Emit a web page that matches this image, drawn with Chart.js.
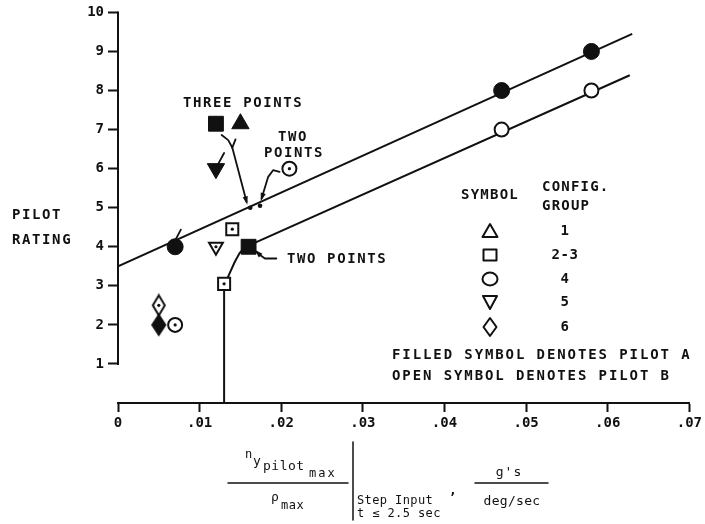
<!DOCTYPE html>
<html>
<head>
<meta charset="utf-8">
<script src="https://cdn.jsdelivr.net/npm/chart.js@4.4.1/dist/chart.umd.min.js"></script>
<style>
  body { margin: 0; background: #fff; }
</style>
</head>
<body>
<canvas id="myChart" width="705" height="524"></canvas>
<script>
const xTicks = [0, 0.01, 0.02, 0.03, 0.04, 0.05, 0.06, 0.07];
const yTicks = [1, 2, 3, 4, 5, 6, 7, 8, 9, 10];

// filled symbol = pilot A, open symbol = pilot B
const circlesA = [{x: 0.007, y: 4}, {x: 0.047, y: 8}, {x: 0.058, y: 9}];
const circlesB = [{x: 0.047, y: 7}, {x: 0.058, y: 8}, {x: 0.021, y: 6}, {x: 0.007, y: 2}];
const squaresA = [{x: 0.012, y: 7.15}, {x: 0.016, y: 4}];
const squaresB = [{x: 0.014, y: 4.45}, {x: 0.013, y: 3.05}];
const triUpA = [{x: 0.015, y: 7.15}];
const triDownA = [{x: 0.012, y: 6}];
const triDownB = [{x: 0.012, y: 4}];
const diamondsA = [{x: 0.005, y: 2}];
const diamondsB = [{x: 0.005, y: 2.5}];
// dots in the middle of some open symbols
const centreDots = [{x: 0.021, y: 6}, {x: 0.007, y: 2}, {x: 0.014, y: 4.45}, {x: 0.013, y: 3.05}, {x: 0.012, y: 4}, {x: 0.005, y: 2.5}];
// the "three points" / "two points" spots on the upper line
const smallDots = [{x: 0.0162, y: 5.0}, {x: 0.0174, y: 5.05}];

// faired lines
const fitA = [{x: 0, y: 3.5}, {x: 0.063, y: 9.45}];
const fitB = [{x: 0.013, y: 0}, {x: 0.013, y: 3}, {x: 0.0137, y: 3.33}, {x: 0.0143, y: 3.61},
              {x: 0.0149, y: 3.84}, {x: 0.0155, y: 3.97}, {x: 0.0164, y: 4.07}, {x: 0.0627, y: 8.39}];

// pointer lines (data coords), last point gets an arrow head when flagged
const pointers = [
  {pts: [{x: 0.0127, y: 6.86}, {x: 0.0135, y: 6.73}, {x: 0.0140, y: 6.54}], head: false},
  {pts: [{x: 0.0144, y: 6.75}, {x: 0.0140, y: 6.54}], head: false},
  {pts: [{x: 0.0140, y: 6.54}, {x: 0.01575, y: 5.15}], head: true},
  {pts: [{x: 0.0198, y: 5.92}, {x: 0.0190, y: 5.96}, {x: 0.0184, y: 5.79}, {x: 0.0176, y: 5.24}], head: true},
  {pts: [{x: 0.0194, y: 3.70}, {x: 0.0180, y: 3.70}, {x: 0.0174, y: 3.79}, {x: 0.0170, y: 3.87}], head: true},
  {pts: [{x: 0.0066, y: 4.0}, {x: 0.0077, y: 4.44}], head: false},
  {pts: [{x: 0.0121, y: 6.05}, {x: 0.0130, y: 6.40}], head: false}
];

const ink = '#111';
const mono = 'DejaVu Sans Mono';

function makeDiamond(w, h, filled) {
  const c = document.createElement('canvas');
  c.width = w + 4;
  c.height = h + 4;
  const g = c.getContext('2d');
  g.beginPath();
  g.moveTo(c.width / 2, 2);
  g.lineTo(c.width - 2, c.height / 2);
  g.lineTo(c.width / 2, c.height - 2);
  g.lineTo(2, c.height / 2);
  g.closePath();
  g.fillStyle = filled ? ink : '#fff';
  g.fill();
  g.lineWidth = 2;
  g.strokeStyle = ink;
  g.stroke();
  return c;
}

function txt(ctx, s, x, y, size, opts) {
  opts = opts || {};
  ctx.font = (opts.bold === false ? '' : 'bold ') + size + 'px "' + mono + '"';
  ctx.letterSpacing = (opts.sp || 0) + 'px';
  ctx.textAlign = opts.align || 'left';
  ctx.textBaseline = 'middle';
  ctx.fillStyle = ink;
  ctx.fillText(s, x, y);
}

function line(ctx, x1, y1, x2, y2, w) {
  ctx.beginPath();
  ctx.lineWidth = w || 2;
  ctx.strokeStyle = ink;
  ctx.moveTo(x1, y1);
  ctx.lineTo(x2, y2);
  ctx.stroke();
}

const paperPlugin = {
  id: 'paper',
  afterDraw(chart) {
    const ctx = chart.ctx;
    const xs = chart.scales.x, ys = chart.scales.y;
    ctx.save();

    // y axis runs only from 1 to 10
    const ax = chart.chartArea.left;
    line(ctx, ax, ys.getPixelForValue(1) + 1, ax, ys.getPixelForValue(10) - 1, 2);

    // pointer lines
    ctx.lineCap = 'round';
    ctx.lineJoin = 'round';
    pointers.forEach(p => {
      const px = p.pts.map(d => [xs.getPixelForValue(d.x), ys.getPixelForValue(d.y)]);
      ctx.beginPath();
      ctx.lineWidth = 1.8;
      ctx.strokeStyle = ink;
      px.forEach((q, i) => i ? ctx.lineTo(q[0], q[1]) : ctx.moveTo(q[0], q[1]));
      ctx.stroke();
      if (p.head) {
        const a = px[px.length - 2], b = px[px.length - 1];
        const ang = Math.atan2(b[1] - a[1], b[0] - a[0]);
        ctx.beginPath();
        ctx.moveTo(b[0] + Math.cos(ang) * 3, b[1] + Math.sin(ang) * 3);
        ctx.lineTo(b[0] - Math.cos(ang - 0.45) * 6, b[1] - Math.sin(ang - 0.45) * 6);
        ctx.lineTo(b[0] - Math.cos(ang + 0.45) * 6, b[1] - Math.sin(ang + 0.45) * 6);
        ctx.closePath();
        ctx.fillStyle = ink;
        ctx.fill();
      }
    });

    // annotations
    txt(ctx, 'THREE POINTS', 183, 103, 14, {sp: 1.6});
    txt(ctx, 'TWO', 293, 137, 14, {sp: 1.6, align: 'center'});
    txt(ctx, 'POINTS', 294, 153, 14, {sp: 1.6, align: 'center'});
    txt(ctx, 'TWO POINTS', 287, 259, 14, {sp: 1.6});

    // y title
    txt(ctx, 'PILOT', 12, 215, 14, {sp: 1.6});
    txt(ctx, 'RATING', 12, 240, 14, {sp: 1.6});

    // key
    txt(ctx, 'SYMBOL', 490, 195, 14, {sp: 1.2, align: 'center'});
    txt(ctx, 'CONFIG.', 542, 187, 14, {sp: 1.2});
    txt(ctx, 'GROUP', 542, 206, 14, {sp: 1.2});
    const groups = ['1', '2-3', '4', '5', '6'];
    const rows = [231, 255, 279, 302, 327];
    groups.forEach((g, i) => txt(ctx, g, 565, rows[i], 14, {sp: 0.6, align: 'center'}));
    ctx.lineWidth = 2;
    ctx.strokeStyle = ink;
    const kx = 490;
    ctx.beginPath(); // triangle
    ctx.moveTo(kx, rows[0] - 7); ctx.lineTo(kx + 7.5, rows[0] + 6); ctx.lineTo(kx - 7.5, rows[0] + 6); ctx.closePath();
    ctx.stroke();
    ctx.strokeRect(kx - 6.5, rows[1] - 5.5, 13, 11); // square
    ctx.beginPath(); // circle
    ctx.ellipse(kx, rows[2], 7.5, 6.5, 0, 0, Math.PI * 2);
    ctx.stroke();
    ctx.beginPath(); // triangle down
    ctx.moveTo(kx - 7, rows[3] - 6); ctx.lineTo(kx + 7, rows[3] - 6); ctx.lineTo(kx, rows[3] + 7); ctx.closePath();
    ctx.stroke();
    ctx.beginPath(); // diamond
    ctx.moveTo(kx, rows[4] - 9); ctx.lineTo(kx + 6.5, rows[4]); ctx.lineTo(kx, rows[4] + 9); ctx.lineTo(kx - 6.5, rows[4]); ctx.closePath();
    ctx.stroke();

    txt(ctx, 'FILLED SYMBOL DENOTES PILOT A', 392, 355, 14, {sp: 1.9});
    txt(ctx, 'OPEN SYMBOL DENOTES PILOT B', 392, 376, 14, {sp: 1.9});

    // x title
    txt(ctx, 'n', 245, 455, 12, {bold: false});
    txt(ctx, 'y', 253, 462, 13, {bold: false});
    txt(ctx, 'pilot', 263, 467, 13, {bold: false, sp: 0.5});
    txt(ctx, 'max', 309, 474, 12, {bold: false, sp: 2});
    line(ctx, 228, 483, 348, 483, 1.5);
    txt(ctx, '\u03c1', 271, 498, 13, {bold: false});
    txt(ctx, 'max', 281, 506, 12, {bold: false, sp: 0.5});
    line(ctx, 353, 442, 353, 520, 1.5);
    txt(ctx, 'Step Input', 357, 501, 12, {bold: false, sp: 0.4});
    txt(ctx, 't \u2264 2.5 sec', 357, 514, 12, {bold: false, sp: 0.4});
    txt(ctx, ',', 449, 491, 13);
    txt(ctx, "g's", 509, 473, 13, {bold: false, align: 'center', sp: 1});
    line(ctx, 475, 483, 548, 483, 1.5);
    txt(ctx, 'deg/sec', 512, 502, 13, {bold: false, align: 'center', sp: 0.3});

    ctx.restore();
  }
};

const tickFont = {family: mono, size: 14, weight: 'bold'};

const config = {
  type: 'scatter',
  data: {
    datasets: [
      {data: centreDots, pointStyle: 'circle', pointRadius: 1.6, backgroundColor: ink, borderWidth: 0},
      {data: smallDots, pointStyle: 'circle', pointRadius: 2.3, backgroundColor: ink, borderWidth: 0},
      {data: circlesA, pointStyle: 'circle', pointRadius: 8, backgroundColor: ink, borderColor: ink, borderWidth: 1},
      {data: circlesB, pointStyle: 'circle', pointRadius: 7, backgroundColor: '#fff', borderColor: ink, borderWidth: 2},
      {data: squaresA, pointStyle: 'rect', pointRadius: 10.5, backgroundColor: ink, borderColor: ink, borderWidth: 1},
      {data: squaresB, pointStyle: 'rect', pointRadius: 8.5, backgroundColor: '#fff', borderColor: ink, borderWidth: 2},
      {data: triUpA, pointStyle: 'triangle', pointRadius: 10, backgroundColor: ink, borderColor: ink, borderWidth: 1},
      {data: triDownA, pointStyle: 'triangle', rotation: 180, pointRadius: 10, backgroundColor: ink, borderColor: ink, borderWidth: 1},
      {data: triDownB, pointStyle: 'triangle', rotation: 180, pointRadius: 8, backgroundColor: '#fff', borderColor: ink, borderWidth: 2},
      {data: diamondsA, pointStyle: makeDiamond(13, 20, true)},
      {data: diamondsB, pointStyle: makeDiamond(12, 20, false)},
      {data: fitA, showLine: true, borderColor: ink, borderWidth: 2, pointRadius: 0},
      {data: fitB, showLine: true, borderColor: ink, borderWidth: 2, pointRadius: 0}
    ]
  },
  options: {
    responsive: false,
    animation: false,
    events: [],
    layout: {padding: {top: 12, right: 15, left: 0, bottom: 0}},
    plugins: {legend: {display: false}, tooltip: {enabled: false}},
    scales: {
      x: {
        type: 'linear',
        min: 0,
        max: 0.07,
        afterBuildTicks: s => { s.ticks = xTicks.map(v => ({value: v})); },
        afterFit: s => { s.height = 121; },
        border: {display: true, color: ink, width: 2},
        grid: {drawOnChartArea: false, drawTicks: true, tickLength: 9, tickWidth: 2, tickColor: ink},
        ticks: {
          color: ink, padding: 3, font: tickFont, maxRotation: 0, autoSkip: false,
          callback: v => v === 0 ? '0' : v.toFixed(2).slice(1)
        }
      },
      y: {
        type: 'linear',
        min: 0,
        max: 10,
        afterBuildTicks: s => { s.ticks = yTicks.map(v => ({value: v})); },
        afterFit: s => { s.width = 118; },
        border: {display: false},
        grid: {drawOnChartArea: false, drawTicks: true, tickLength: 10, tickWidth: 2, tickColor: ink},
        ticks: {color: ink, padding: 4, font: tickFont, autoSkip: false}
      }
    }
  },
  plugins: [paperPlugin]
};

const myChart = new Chart(document.getElementById('myChart'), config);
</script>
</body>
</html>
